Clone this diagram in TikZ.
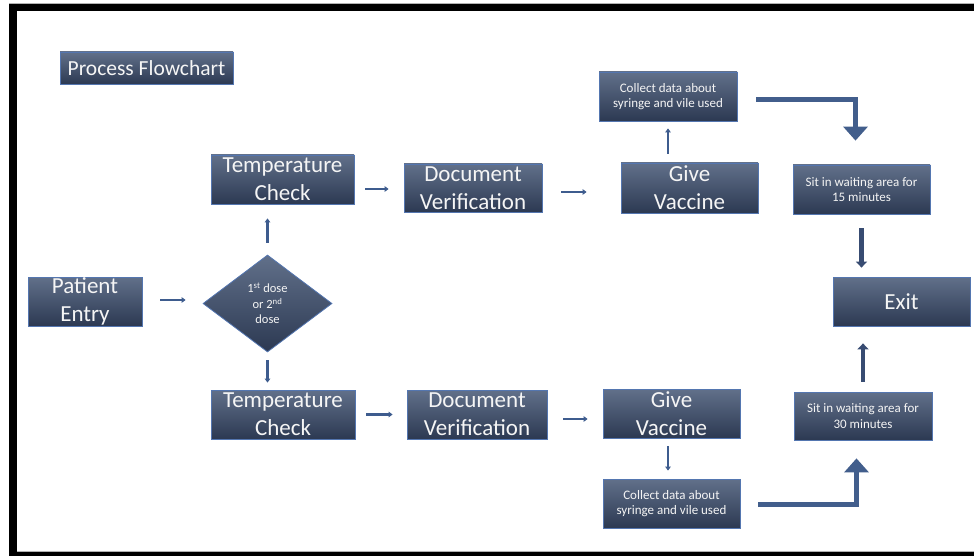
\documentclass[tikz,border=0pt]{standalone}
\usepackage{fontspec}
\setmainfont{Carlito}
\usetikzlibrary{arrows.meta,calc,shapes.geometric}

\definecolor{boxtop}{RGB}{97,112,138}
\definecolor{boxbot}{RGB}{44,57,82}
\definecolor{boxedge}{RGB}{84,118,176}
\definecolor{arrowblue}{RGB}{62,92,142}
\definecolor{vertblue}{RGB}{56,76,114}
\definecolor{bigblue}{RGB}{66,94,140}
\definecolor{txt}{RGB}{245,245,245}

\tikzset{
  box/.style={draw=boxedge, line width=0.8pt, top color=boxtop, bottom color=boxbot,
    text=txt, align=center, inner sep=0pt},
  bigtext/.style={box, font=\fontsize{23}{28}\selectfont},
  smalltext/.style={box, font=\fontsize{13}{15.5}\selectfont},
  decision/.style={box, shape=diamond, font=\fontsize{12.5}{15.5}\selectfont},
  arr/.style={draw=arrowblue, line width=2.2pt, -{Triangle[width=5.5pt,length=4pt]}},
  vert/.style={draw=vertblue, fill=vertblue, line width=4.5pt, -{Triangle[width=11pt,length=6pt]}},
  bigarr/.style={draw=bigblue, line width=5.5pt, line join=miter, -{Triangle[width=24pt,length=14pt]}}
}

\begin{document}
\begin{tikzpicture}[x=1pt, y=-1pt]
\useasboundingbox (0,0) rectangle (974,556);
\fill[white] (0,0) rectangle (974,556);

% black frame, open on the right
\fill[black] (9,4) rectangle (974,11);
\fill[black] (9,4) rectangle (17,556);
\fill[black] (9,551.5) rectangle (974,556);
\draw[gray!60, line width=0.8pt] (9,3.6) -- (974,3.6);
\draw[gray!60, line width=0.8pt] (17,551.2) -- (974,551.2);

% title
\node[box, font=\fontsize{21.5}{24}\selectfont, minimum width=173, minimum height=32] (title) at (146.5,68) {Process Flowchart};

% entry and decision
\node[bigtext, minimum width=114, minimum height=49] (pe) at (85,301.5) {Patient\\Entry};
\node[decision, minimum width=129, minimum height=97] (dia) at (267.5,303.5) {1\textsuperscript{st} dose\\or 2\textsuperscript{nd}\\dose};

% first dose branch
\node[bigtext, minimum width=143, minimum height=49] (tc1) at (282.5,179.5) {Temperature\\Check};
\node[bigtext, minimum width=138, minimum height=48] (dv1) at (473,188) {Document\\Verification};
\node[bigtext, minimum width=137, minimum height=50] (gv1) at (689.5,188) {Give\\Vaccine};
\node[smalltext, minimum width=138, minimum height=49] (c1) at (668,96.5) {Collect data about\\syringe and vile used};
\node[smalltext, minimum width=137, minimum height=49] (s15) at (861.5,189.5) {Sit in waiting area for\\15 minutes};

% exit
\node[bigtext, minimum width=137, minimum height=49] (exit) at (901.5,301.5) {Exit};

% second dose branch
\node[bigtext, minimum width=144, minimum height=49] (tc2) at (283,414.5) {Temperature\\Check};
\node[bigtext, minimum width=140, minimum height=49] (dv2) at (477,414.5) {Document\\Verification};
\node[bigtext, minimum width=137, minimum height=49] (gv2) at (671.5,413.5) {Give\\Vaccine};
\node[smalltext, minimum width=137, minimum height=49] (c2) at (671.5,503.5) {Collect data about\\syringe and vile used};
\node[smalltext, minimum width=138, minimum height=48] (s30) at (863,416) {Sit in waiting area for\\30 minutes};

% connectors
\draw[arr, shorten <=18pt, shorten >=17pt] ([yshift=1.5pt]pe.east) -- ([yshift=1.5pt]pe.east -| dia.west);
\draw[arr, shorten <=12pt, shorten >=14pt] (dia.north) -- (dia.north |- tc1.south);
\draw[arr, shorten <=8pt, shorten >=7pt] (dia.south) -- (dia.south |- tc2.north);

\draw[arr, shorten <=11pt, shorten >=15pt] ([yshift=-9.5pt]tc1.east) -- ([yshift=-9.5pt]tc1.east -| dv1.west);
\draw[arr, shorten <=19pt, shorten >=34pt] ([yshift=-4pt]dv1.east) -- ([yshift=-4pt]dv1.east -| gv1.west);
\draw[arr, shorten <=9pt, shorten >=7pt] (c1.south |- gv1.north) -- (c1.south);
\draw[bigarr, shorten >=24pt] ([xshift=19pt, yshift=-3pt]c1.east) -| ([xshift=-6pt]s15.north);
\draw[vert, shorten <=14pt, shorten >=9pt] (s15.south) -- (s15.south |- exit.north);

\draw[arr, shorten <=11pt, shorten >=14pt] (tc2.east) -- (tc2.east -| dv2.west);
\draw[arr, shorten <=16pt, shorten >=15pt] ([yshift=-4.5pt]dv2.east) -- ([yshift=-4.5pt]dv2.east -| gv2.west);
\draw[arr, shorten <=8pt, shorten >=8pt] ([xshift=-3.5pt]gv2.south) -- ([xshift=-3.5pt]c2.north);
\draw[bigarr, shorten >=18pt] ([xshift=18pt, yshift=-1pt]c2.east) -| ([xshift=-6.5pt]s30.south);
\draw[vert, shorten <=10pt, shorten >=17pt] (s30.north) -- (s30.north |- exit.south);
\end{tikzpicture}
\end{document}
